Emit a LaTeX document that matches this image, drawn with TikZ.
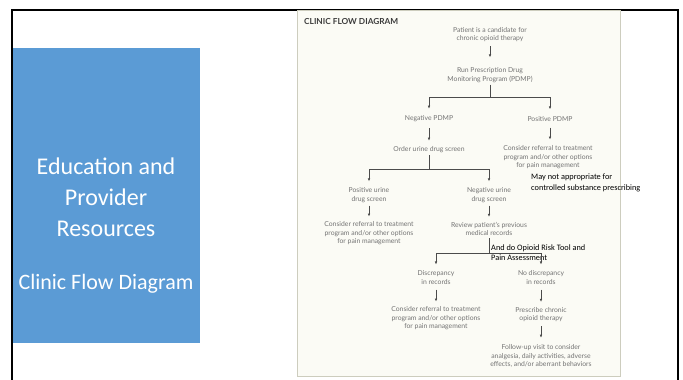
\documentclass[tikz,border=0pt]{standalone}
\usepackage{fontspec}
\setmainfont{Carlito}
\newfontfamily\diagfont{Lato}
\usetikzlibrary{arrows.meta}
\definecolor{blueslide}{RGB}{91,155,213}
\definecolor{flowtext}{RGB}{115,115,115}
\definecolor{flowline}{RGB}{75,75,75}
\definecolor{panelfill}{RGB}{251,251,245}
\definecolor{panelrule}{RGB}{205,205,190}
\definecolor{titlegray}{RGB}{60,60,60}
\begin{document}
\begin{tikzpicture}[x=1pt,y=-1pt,
  flow/.style={font=\diagfont\fontsize{6.8}{8.6}\selectfont, text=flowtext, align=center, inner sep=0pt},
  note/.style={font=\fontsize{8.3}{10.5}\selectfont, text=black, align=left, inner sep=0pt, anchor=west},
  arr/.style={draw=flowline, line width=0.6pt, -{Latex[length=3pt,width=2.6pt]}, shorten <=4pt, shorten >=6pt},
  link/.style={draw=flowline, line width=0.6pt}]
\useasboundingbox (0,0) rectangle (683,380);
\fill[white] (0,0) rectangle (683,380);
\draw[black, line width=2pt] (11.5,9.5) rectangle (677.5,400);
\fill[blueslide] (12.5,48) rectangle (200,343);
\node[font=\fontsize{24}{31}\selectfont, text=white, align=center, inner sep=0pt] (edu) at (106,197) {Education and\\Provider\\Resources};
\node[font=\fontsize{22}{26}\selectfont, text=white, inner sep=0pt] (sub) at (106,284) {Clinic Flow Diagram};
% panel
\draw[panelrule, fill=panelfill, line width=0.8pt] (297.5,10.5) rectangle (620.5,376);
\node[font=\diagfont\bfseries\fontsize{8.3}{9}\selectfont, text=titlegray, anchor=west, inner sep=0pt] (title) at (304,21) {CLINIC FLOW DIAGRAM};
% nodes
\node[flow] (patient) at (490,34.5) {Patient is a candidate for\\chronic opioid therapy};
\node[flow] (pdmp) at (490,75) {Run Prescription Drug\\Monitoring Program (PDMP)};
\node[flow] (negpdmp) at (429,119) {Negative PDMP};
\node[flow] (pospdmp) at (550,119) {Positive PDMP};
\node[flow] (order) at (429,150) {Order urine drug screen};
\node[flow] (refer1) at (548,157.5) {Consider referral to treatment\\program and/or other options\\for pain management};
\node[flow] (posurine) at (369,195) {Positive urine\\drug screen};
\node[flow] (negurine) at (489,195) {Negative urine\\drug screen};
\node[flow] (refer2) at (369,233.5) {Consider referral to treatment\\program and/or other options\\for pain management};
\node[flow] (review) at (489,229) {Review patient’s previous\\medical records};
\node[flow] (disc) at (436,277.5) {Discrepancy\\in records};
\node[flow] (nodisc) at (541,277.5) {No discrepancy\\in records};
\node[flow] (refer3) at (436,318.5) {Consider referral to treatment\\program and/or other options\\for pain management};
\node[flow] (prescribe) at (541,314.5) {Prescribe chronic\\opioid therapy};
\node[flow] (follow) at (541,356) {Follow-up visit to consider\\analgesia, daily activities, adverse\\effects, and/or aberrant behaviors};
% notes
\node[note] (note1) at (531,183) {May not appropriate for\\controlled substance prescribing};
\node[note] (note2) at (491,252.5) {And do Opioid Risk Tool and\\Pain Assessment};
% junctions
\coordinate (j1) at (490,97);
\coordinate (j2) at (429,169);
\coordinate (j3) at (489,253);
% connectors
\draw[arr, shorten >=10pt] (patient.south) -- (pdmp.north);
\draw[link, shorten <=2pt] (pdmp.south) -- (j1);
\draw[arr, shorten <=0pt, shorten >=7pt] (j1) -| (negpdmp.north);
\draw[arr, shorten <=0pt, shorten >=7pt] (j1) -| (pospdmp.north);
\draw[arr, shorten <=6pt] (negpdmp.south) -- (order.north);
\draw[arr, shorten <=6pt] (pospdmp.south) -- (pospdmp.south |- refer1.north);
\draw[link, shorten <=2pt] (order.south) -- (j2);
\draw[arr, shorten <=0pt] (j2) -| (posurine.north);
\draw[arr, shorten <=0pt] (j2) -| (negurine.north);
\draw[arr, shorten <=3pt, shorten >=5pt] (posurine.south) -- (refer2.north);
\draw[arr, shorten <=3pt, shorten >=5pt] (negurine.south) -- (review.north);
\draw[link, shorten <=2pt] (review.south) -- (j3);
\draw[arr, shorten <=0pt] (j3) -| (disc.north);
\draw[arr, shorten <=0pt] (j3) -| (nodisc.north);
\draw[arr, shorten <=5pt, shorten >=5pt] (disc.south) -- (refer3.north);
\draw[arr, shorten <=5pt, shorten >=5pt] (nodisc.south) -- (prescribe.north);
\draw[arr, shorten <=4pt, shorten >=6.5pt] (prescribe.south) -- (follow.north);
\end{tikzpicture}
\end{document}
